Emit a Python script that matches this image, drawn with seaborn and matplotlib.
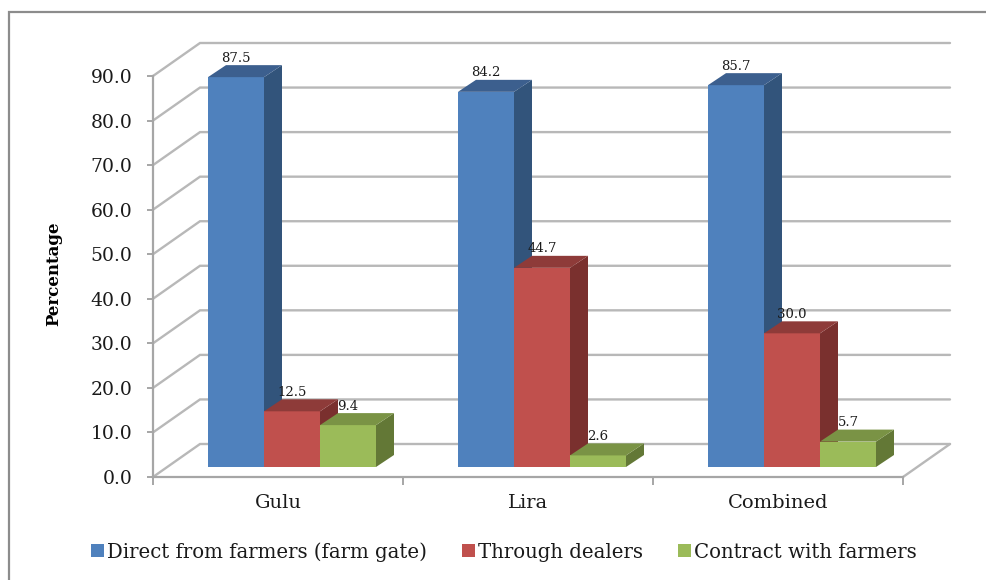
import matplotlib
matplotlib.use("Agg")
import matplotlib.pyplot as plt
from matplotlib.lines import Line2D
from matplotlib.patches import Polygon
import pandas as pd
import seaborn as sns

# Survey results
locations = ["Gulu", "Lira", "Combined"]
channels = ["Direct from farmers (farm gate)", "Through dealers", "Contract with farmers"]
direct_share = [87.5, 84.2, 85.7]
dealer_share = [12.5, 44.7, 30.0]
contract_share = [9.4, 2.6, 5.7]
y_ticks = [0, 10, 20, 30, 40, 50, 60, 70, 80, 90]

front_colors = ["#4F81BD", "#C0504D", "#9BBB59"]
side_colors = ["#32547B", "#7A302E", "#637836"]
top_colors = ["#3C5F8E", "#8E3B39", "#7A9345"]

FONT = "DejaVu Serif"
W, H = 986, 580
AX_L, AX_R, AX_T, AX_B = 153, 903, 76, 477

sns.set_theme(style="white", rc={"font.family": FONT})
fig = plt.figure(figsize=(W / 100, H / 100), dpi=100, facecolor="white")
ax = fig.add_axes([AX_L / W, 1 - AX_B / H, (AX_R - AX_L) / W, (AX_B - AX_T) / H])

# Pixel-to-data scale factors for the oblique projection
px_x = 3.0 / (AX_R - AX_L)
px_y = 90.0 / (AX_B - AX_T)
wall_dx, wall_dy = 47 * px_x, 33 * px_y
bar_dx, bar_dy = 18 * px_x, 12 * px_y
inset_dx, inset_dy = 14 * px_x, 10 * px_y

table = pd.DataFrame({
    "location": locations * 3,
    "channel": [c for c in channels for _ in locations],
    "share": direct_share + dealer_share + contract_share,
})
sns.barplot(data=table, x="location", y="share", hue="channel", order=locations,
            hue_order=channels, palette=front_colors, width=0.672, gap=0,
            saturation=1, errorbar=None, linewidth=0, ax=ax)
ax.set_xlim(-0.5, 2.5)
ax.set_ylim(0, 90)

# Wall and floor rules behind the columns
wall_color = "#B8B8B8"
for v in y_ticks:
    ax.plot([-0.5, -0.5 + wall_dx, 2.5 + wall_dx], [v, v + wall_dy, v + wall_dy],
            color=wall_color, lw=1.7, clip_on=False, zorder=1, solid_joinstyle="miter")
ax.plot([2.5, 2.5 + wall_dx], [0, wall_dy], color=wall_color, lw=1.7, clip_on=False, zorder=1)

# Give each column its shaded side and top, painting left to right
for series, (sides, tops) in enumerate(zip(side_colors, top_colors)):
    for bar in ax.containers[series]:
        x0 = bar.get_x() + inset_dx
        x1 = x0 + bar.get_width()
        h = bar.get_height()
        bar.set_x(x0)
        bar.set_y(inset_dy)
        order = 3 + series
        bar.set_zorder(order)
        bar.set_clip_on(False)
        base = inset_dy
        top = base + h
        ax.add_patch(Polygon([(x1, base), (x1 + bar_dx, base + bar_dy),
                              (x1 + bar_dx, top + bar_dy), (x1, top)],
                             closed=True, fc=sides, ec="none", zorder=order, clip_on=False))
        ax.add_patch(Polygon([(x0, top), (x0 + bar_dx, top + bar_dy),
                              (x1 + bar_dx, top + bar_dy), (x1, top)],
                             closed=True, fc=tops, ec="none", zorder=order, clip_on=False))
        ax.annotate(f"{h:.1f}", xy=((x0 + x1) / 2, top + bar_dy), xytext=(0, 7),
                    textcoords="offset pixels", ha="center", va="center",
                    fontsize=9.5, color="#1a1a1a", zorder=10, annotation_clip=False)

# Axes
sns.despine(ax=ax, top=True, right=True)
for side in ("left", "bottom"):
    ax.spines[side].set_color("#A6A6A6")
    ax.spines[side].set_linewidth(1.6)
    ax.spines[side].set_zorder(2)

ax.set_yticks(y_ticks)
ax.set_yticklabels([f"{v:.1f}" for v in y_ticks], fontsize=13.5, color="#1a1a1a")
ax.tick_params(axis="y", length=4, width=1.4, color="#A6A6A6", left=True, pad=11)
ax.set_xticks(range(len(locations)))
ax.set_xticklabels(locations, fontsize=14, color="#1a1a1a")
ax.tick_params(axis="x", which="major", length=0, pad=12)
ax.set_xticks([-0.5, 0.5, 1.5, 2.5], minor=True)
ax.tick_params(axis="x", which="minor", length=6, width=1.4, color="#A6A6A6", bottom=True)
ax.set_xlabel("")
ax.set_ylabel("Percentage", fontsize=12, fontweight="bold", color="black")
ax.yaxis.set_label_coords((62 - AX_L) / (AX_R - AX_L), (AX_B - 274) / (AX_B - AX_T))

# Legend along the bottom
handles, labels = ax.get_legend_handles_labels()
ax.get_legend().remove()
fig.legend(handles, labels, loc="center", bbox_to_anchor=(504 / W, 1 - 552 / H), ncol=3,
           frameon=False, fontsize=14.2, handlelength=0.68, handleheight=0.65,
           handletextpad=0.15, columnspacing=1.75, labelcolor="#1a1a1a")

# Chart frame: left and top edges only
frame = Line2D([9 / W, 9 / W, 1.0], [0.0, 1 - 12 / H, 1 - 12 / H],
               transform=fig.transFigure, color="#8C8C8C", lw=1.6, solid_joinstyle="miter")
fig.add_artist(frame)

fig.savefig("out.png", dpi=100, facecolor="white")
